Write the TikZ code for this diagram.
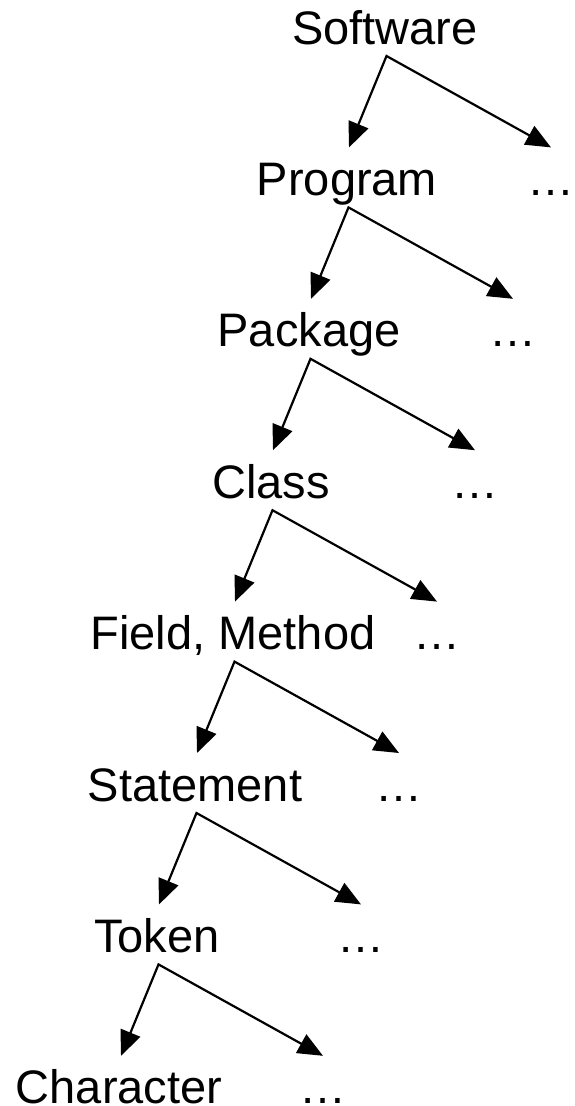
\documentclass[tikz,border=0pt]{standalone}
\usepackage{fontspec}
\setmainfont{Liberation Sans}
\usetikzlibrary{arrows.meta}
\begin{document}
\begin{tikzpicture}[x=1pt,y=1pt,
  lbl/.style={inner sep=0pt, anchor=base, font=\fontsize{47}{56}\selectfont},
  fork/.style={line width=2.2pt, line join=miter,
    {Triangle[length=25pt,width=21pt]}-{Triangle[length=25pt,width=21pt]}}]
\useasboundingbox (0,0) rectangle (574,-1106);
% levels of the hierarchy, one per row
\foreach \i/\txt in {0/Software,1/Program,2/Package,3/Class,4/{Field, Method},5/Statement,6/Token,7/Character} {
  \node[lbl] (l\i) at ({385-38*\i}, {-44-151.4*\i}) {\txt};
}
% siblings left out at each level
\foreach \i in {1,...,7} {
  \node[lbl] (d\i) at ({385-38*\i+204}, {-44-151.4*\i}) {…};
}
% each level splits into the next level and the rest
\foreach \i in {0,...,6} {
  \pgfmathtruncatemacro{\j}{\i+1}
  \coordinate (o\i) at ([xshift=1.5pt,yshift=-12pt]l\i.base);
  \draw[fork] ([xshift=2pt,yshift=48pt]l\j.base) -- (o\i) -- ([yshift=48pt]d\j.base);
}
\end{tikzpicture}
\end{document}
